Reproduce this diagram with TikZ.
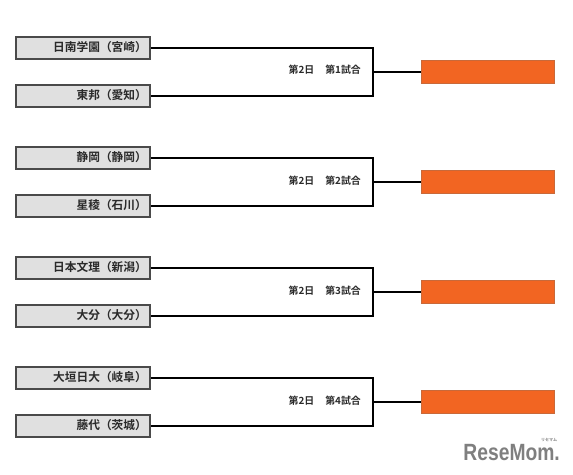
\documentclass[tikz,border=0pt]{standalone}
\usepackage{fontspec}
\setmainfont{Liberation Sans}
\newfontfamily\jpb{Noto Sans CJK JP Bold}
\newfontfamily\lat{Liberation Sans}
\definecolor{boxfill}{HTML}{E0E0E0}
\definecolor{boxline}{HTML}{4A4A4A}
\definecolor{orangefill}{HTML}{F26522}
\definecolor{orangeline}{HTML}{C8693A}
\definecolor{txt}{HTML}{2A2A2A}
\definecolor{logo}{HTML}{7F7F7F}
\tikzset{
 team/.style={draw=boxline,line width=2pt,fill=boxfill,minimum width=134pt,minimum height=21.7pt,inner sep=0pt,outer sep=1pt,text=txt},
 result/.style={draw=orangeline,line width=0.5pt,fill=orangefill,minimum width=133pt,minimum height=23.3pt,inner sep=0pt},
 bracket/.style={line width=1.7pt,black},
 gamelabel/.style={inner sep=0pt,text=txt,anchor=east,font=\jpb\fontsize{9.9}{11}\selectfont},
 teamlabel/.style={inner sep=0pt,anchor=east,text=txt,font=\jpb\fontsize{11.7}{13}\selectfont}
}
\begin{document}
\begin{tikzpicture}[x=1pt,y=-1pt]
\useasboundingbox (0,0) rectangle (573,474);
\foreach \i/\a/\b/\n/\y in {1/日南学園（宮崎）/東邦（愛知）/1/48,2/静岡（静岡）/星稜（石川）/2/158,3/日本文理（新潟）/大分（大分）/3/268,4/大垣日大（岐阜）/藤代（茨城）/4/378}{
 \node[team] (a\i) at (83,\y) {};
 \node[team] (b\i) at (83,\y+48) {};
 \node[teamlabel] (ta\i) at (147,\y-0.8) {\a};
 \node[teamlabel] (tb\i) at (147,\y+47.2) {\b};
 \node[result] (r\i) at (487.8,\y+23.8) {};
 \coordinate (j\i) at (373,\y+23.8);
 \draw[bracket] (a\i.east) -| (j\i) |- (b\i.east);
 \draw[bracket] (j\i) -- (r\i.west);
 \node[gamelabel] (g\i) at (361,\y+22.2) {第2日\hspace{1.1em}第\n 試合};
}
\node[anchor=base east,inner sep=0pt,text=logo,xscale=0.82,font=\lat\bfseries\fontsize{23.5}{25}\selectfont] (logo) at (560,460) {ReseMom.};
\node[inner sep=0pt,text=logo,font=\jpb\fontsize{4}{5}\selectfont] (logokana) at (549,440.3) {リセマム};
\end{tikzpicture}
\end{document}
